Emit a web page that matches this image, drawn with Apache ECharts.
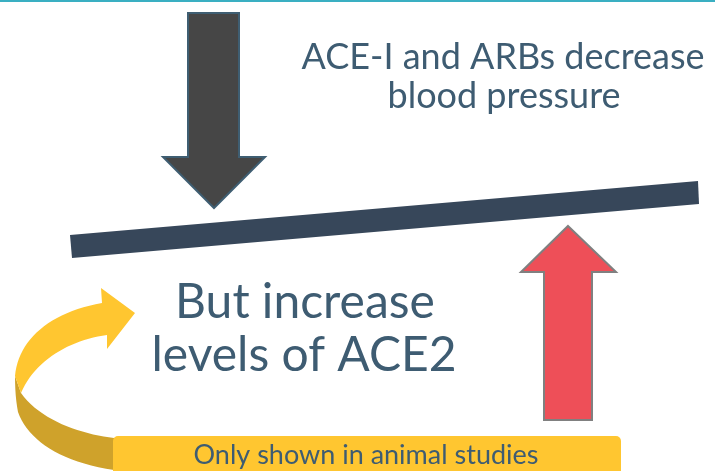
<!DOCTYPE html>
<html>
<head>
<meta charset="utf-8">
<script src="https://cdn.jsdelivr.net/npm/echarts@6/dist/echarts.min.js"></script>
<style>html,body{margin:0;padding:0;background:#fff}#c{width:715px;height:471px}</style>
</head>
<body>
<div id="c"></div>
<script>
var topLines = ['ACE-I and ARBs decrease', 'blood pressure'];
var midLines = ['But increase', 'levels of ACE2'];
var noteText = 'Only shown in animal studies';

var TXT = '#3E5C72';
var FONT = 'Lato, "Open Sans", sans-serif';

var chart = echarts.init(document.getElementById('c'), null, {renderer: 'canvas'});

function poly(points, fill, stroke, lw, z) {
  return {type: 'polygon', shape: {points: points}, style: {fill: fill, stroke: stroke || null, lineWidth: lw || 0}, z: z || 1};
}
function bez(p0, p1, p2, p3, n) {
  var out = [];
  for (var i = 0; i <= n; i++) {
    var t = i / n, u = 1 - t;
    out.push([
      u*u*u*p0[0] + 3*u*u*t*p1[0] + 3*u*t*t*p2[0] + t*t*t*p3[0],
      u*u*u*p0[1] + 3*u*u*t*p1[1] + 3*u*t*t*p2[1] + t*t*t*p3[1]
    ]);
  }
  return out;
}

var backShape = [].concat(
  bez([15, 376], [15, 390], [16, 402], [18, 412], 6),
  bez([18, 412], [28, 440], [60, 462], [114, 470], 20),
  [[114, 438]],
  bez([114, 438], [80, 434], [40, 420], [21, 393], 20)
);
var frontShape = [].concat(
  bez([15, 376], [18, 340], [50, 312], [102, 303], 24),
  [[101, 288], [135, 313], [107, 349], [107, 335]],
  bez([107, 335], [70, 340], [35, 360], [21, 393], 24)
);

var graphics = [
  {type: 'rect', shape: {x: 0, y: 0, width: 715, height: 2}, style: {fill: '#3AAFC2'}},
  poly([[188, 13], [239, 13], [239, 157], [265, 157], [214, 208], [163, 157], [188, 157]], '#464646', '#3F5E72', 2),
  poly([[70, 235], [698, 181], [699, 204], [72, 258]], '#37475A'),
  poly([[568, 226], [616, 272], [592, 272], [592, 420], [544, 420], [544, 272], [521, 272]], '#EE4F58', '#808080', 2),
  poly(backShape, '#CFA22B', null, 0, 2),
  poly(frontShape, '#FFC630', null, 0, 2),
  {type: 'rect', shape: {x: 113, y: 436, width: 508, height: 45, r: 5}, style: {fill: '#FFC630'}, z: 3},
  {type: 'text', x: 366, y: 455, style: {text: noteText, fill: TXT, font: '27px ' + FONT, align: 'center', verticalAlign: 'middle'}, z: 4},
  {type: 'text', x: 503, y: 57, style: {text: topLines[0], fill: TXT, font: '36px ' + FONT, align: 'center', verticalAlign: 'middle'}, z: 4},
  {type: 'text', x: 504, y: 96, style: {text: topLines[1], fill: TXT, font: '36px ' + FONT, align: 'center', verticalAlign: 'middle'}, z: 4},
  {type: 'text', x: 305, y: 303, style: {text: midLines[0], fill: TXT, font: '48px ' + FONT, align: 'center', verticalAlign: 'middle'}, z: 4},
  {type: 'text', x: 304, y: 356, style: {text: midLines[1], fill: TXT, font: '48px ' + FONT, align: 'center', verticalAlign: 'middle'}, z: 4}
];

chart.setOption({
  animation: false,
  backgroundColor: '#ffffff',
  graphic: {elements: graphics}
});
</script>
</body>
</html>
